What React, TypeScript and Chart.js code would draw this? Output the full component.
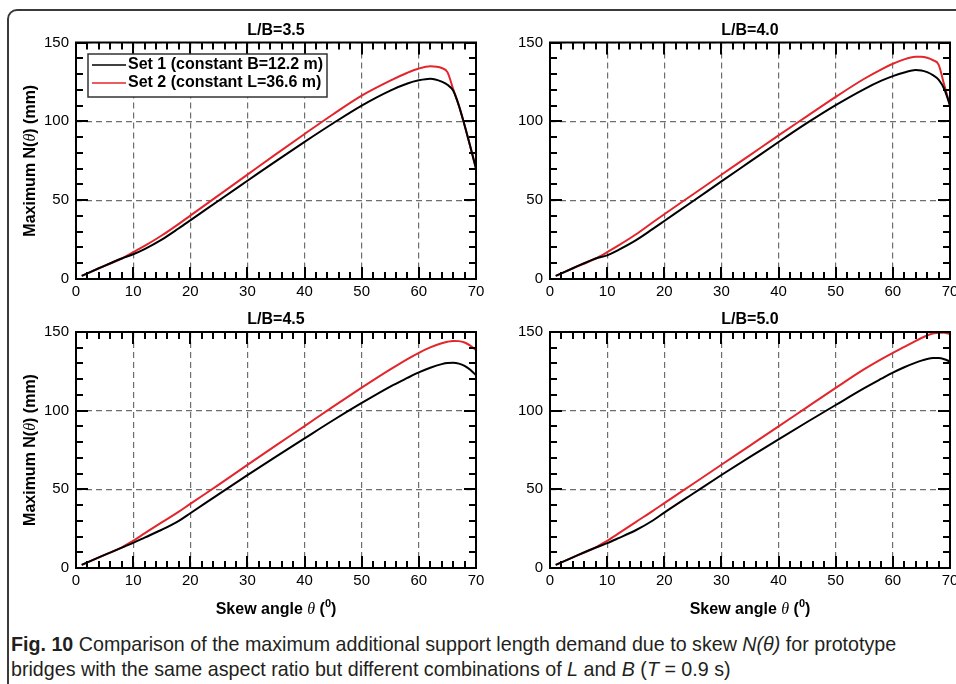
import React, { useEffect, useLayoutEffect, useRef } from "react";
import { Chart, registerables } from "chart.js";

Chart.register(...registerables);

// ---------- data ----------
const SKEW = [1, 4, 8, 10, 12, 15, 18, 20, 25, 30, 35, 40, 45, 50, 55, 58, 60, 62, 64, 65, 66, 67, 68, 69, 70];

const SET1_LB35 = [2, 6.8, 13, 15.7, 19, 25, 32.2, 37.2, 49.8, 62.3, 74.8, 87, 98.8, 110, 119.5, 124, 126, 127, 125.2, 123.2, 119.5, 110, 97.5, 84, 70];
const SET2_LB35 = [2, 6.8, 13, 17, 21, 27.6, 35, 40.2, 53.2, 66.2, 79.2, 92, 104.5, 116.3, 125.8, 130.8, 133.5, 134.9, 133.8, 131.2, 120.5, 110, 97.5, 84, 70];

const SET1_LB40 = [2, 6.8, 13, 15, 18.5, 24.5, 31.8, 36.8, 49.3, 61.9, 74.4, 86.9, 99, 110.3, 120.5, 125.8, 128.7, 131, 132.5, 132.3, 131.2, 129.3, 126.5, 120.5, 110];
const SET2_LB40 = [2, 6.8, 13, 17, 21.3, 28.2, 36, 41.1, 53.6, 66.1, 78.6, 91.1, 103.3, 115.5, 127, 133, 136.5, 139.3, 140.9, 141, 140.3, 138.8, 136, 123, 110];

const SET1_LB45 = [2, 6.8, 13, 16, 19.3, 24.3, 30, 34.8, 47, 59, 70.8, 82.4, 93.9, 104.9, 115.3, 120.8, 124.3, 127.3, 129.6, 130.3, 130.4, 129.9, 128.5, 126, 122.5];
const SET2_LB45 = [2, 6.8, 13, 17.3, 22, 29, 35.8, 40.8, 53, 65.5, 77.9, 90.2, 102.6, 114.6, 126.2, 132.8, 136.8, 140.2, 142.9, 143.8, 144.3, 144.2, 143.3, 141.3, 138.5];

const SET1_LB50 = [2, 6.8, 13, 15.8, 19, 24, 30.2, 35.2, 47.2, 59.1, 70.6, 81.8, 92.8, 103.6, 114.3, 120.3, 124.2, 127.6, 130.5, 131.8, 132.8, 133.4, 133.4, 132.7, 131.2];
const SET2_LB50 = [2, 6.8, 13, 17.3, 22, 29.2, 36.3, 41.2, 53.4, 65.6, 77.8, 90, 102.3, 114.5, 126.4, 132.8, 136.8, 140.6, 144.4, 146.2, 147.8, 149, 149.6, 149.5, 148.6];

const SERIES_LABELS = ["Set 1 (constant B=12.2 m)", "Set 2 (constant L=36.6 m)"];
const PANEL_TITLES = ["L/B=3.5", "L/B=4.0", "L/B=4.5", "L/B=5.0"];
const X_MIN = 0, X_MAX = 70, X_STEP = 10, X_MINOR = 2;
const Y_MIN = 0, Y_MAX = 150, Y_STEP = 50, Y_MINOR = 10;

const RED = "#e3262b";
const SANS = "'Liberation Sans', Arial, Helvetica, sans-serif";
const SERIF = "'Liberation Serif', 'Times New Roman', serif";

type Seg = { t: string; f: string; dy?: number };

function drawRich(ctx: CanvasRenderingContext2D, segs: Seg[], cx: number, cy: number, rot = 0) {
  ctx.save();
  ctx.translate(cx, cy);
  if (rot) ctx.rotate(rot);
  ctx.textBaseline = "middle";
  ctx.textAlign = "left";
  ctx.fillStyle = "#000";
  let w = 0;
  for (const s of segs) {
    ctx.font = s.f;
    w += ctx.measureText(s.t).width;
  }
  let x = -w / 2;
  for (const s of segs) {
    ctx.font = s.f;
    ctx.fillText(s.t, x, s.dy || 0);
    x += ctx.measureText(s.t).width;
  }
  ctx.restore();
}

type PanelProps = {
  left: number;
  top: number;
  width: number;
  height: number;
  area: { left: number; right: number; top: number; bottom: number };
  title: string;
  set1: number[];
  set2: number[];
  legend?: boolean;
  yTitle?: boolean;
  xTitle?: boolean;
};

function Panel(p: PanelProps) {
  const ref = useRef<HTMLCanvasElement>(null);
  useEffect(() => {
    const canvas = ref.current!;
    const decor = {
      id: "decor",
      afterDraw(chart: any) {
        const ctx: CanvasRenderingContext2D = chart.ctx;
        const a = chart.chartArea;
        const xs = chart.scales.x;
        const ys = chart.scales.y;
        ctx.save();
        // inward ticks
        ctx.strokeStyle = "#000";
        ctx.lineWidth = 2;
        ctx.beginPath();
        for (let v = X_MIN; v <= X_MAX; v += X_MINOR) {
          const px = Math.round(xs.getPixelForValue(v));
          const len = v % X_STEP === 0 ? 12 : 7;
          ctx.moveTo(px, a.bottom);
          ctx.lineTo(px, a.bottom - len);
          ctx.moveTo(px, a.top);
          ctx.lineTo(px, a.top + len);
        }
        for (let v = Y_MIN; v <= Y_MAX; v += Y_MINOR) {
          const py = Math.round(ys.getPixelForValue(v));
          const len = v % Y_STEP === 0 ? 12 : 7;
          ctx.moveTo(a.left, py);
          ctx.lineTo(a.left + len, py);
          ctx.moveTo(a.right, py);
          ctx.lineTo(a.right - len, py);
        }
        ctx.stroke();
        // box
        ctx.lineWidth = 2;
        ctx.strokeRect(a.left, a.top, a.right - a.left, a.bottom - a.top);
        ctx.restore();

        // panel title
        drawRich(ctx, [{ t: p.title, f: `bold 16px ${SANS}` }], (a.left + a.right) / 2, a.top - 12);

        if (p.yTitle) {
          drawRich(
            ctx,
            [
              { t: "Maximum N(", f: `bold 16px ${SANS}` },
              { t: "θ", f: `italic 16px ${SERIF}` },
              { t: ") (mm)", f: `bold 16px ${SANS}` },
            ],
            30.5,
            (a.top + a.bottom) / 2,
            -Math.PI / 2
          );
        }
        if (p.xTitle) {
          drawRich(
            ctx,
            [
              { t: "Skew angle ", f: `bold 16px ${SANS}` },
              { t: "θ", f: `italic 16px ${SERIF}` },
              { t: " (", f: `bold 16px ${SANS}` },
              { t: "0", f: `bold 11px ${SANS}`, dy: -6 },
              { t: ")", f: `bold 16px ${SANS}` },
            ],
            (a.left + a.right) / 2,
            a.bottom + 42
          );
        }
        if (p.legend) {
          const bx = a.left + 12, by = a.top + 11.5, bw = 239, bh = 43;
          ctx.save();
          ctx.fillStyle = "#fff";
          ctx.fillRect(bx, by, bw, bh);
          ctx.strokeStyle = "#333";
          ctx.lineWidth = 1.5;
          ctx.strokeRect(bx, by, bw, bh);
          chart.data.datasets.forEach((ds: any, i: number) => {
            const yy = by + 11 + i * 18;
            ctx.strokeStyle = ds.borderColor;
            ctx.lineWidth = 1.5;
            ctx.beginPath();
            ctx.moveTo(bx + 4, yy);
            ctx.lineTo(bx + 38, yy);
            ctx.stroke();
            ctx.fillStyle = "#000";
            ctx.font = `bold 16px ${SANS}`;
            ctx.textBaseline = "middle";
            ctx.textAlign = "left";
            ctx.fillText(ds.label, bx + 40, yy);
          });
          ctx.restore();
        }
      },
    };

    const mk = (vals: number[]) => SKEW.map((x, i) => ({ x, y: vals[i] }));
    const chart = new Chart(canvas, {
      type: "line",
      data: {
        datasets: [
          {
            label: SERIES_LABELS[0],
            data: mk(p.set1),
            borderColor: "#000",
            borderWidth: 2,
            pointRadius: 0,
            cubicInterpolationMode: "monotone",
          },
          {
            label: SERIES_LABELS[1],
            data: mk(p.set2),
            borderColor: RED,
            borderWidth: 2,
            pointRadius: 0,
            cubicInterpolationMode: "monotone",
          },
        ],
      },
      options: {
        responsive: false,
        animation: false,
        devicePixelRatio: 1,
        layout: { padding: { left: 0, top: p.area.top, right: p.width - p.area.right, bottom: 0 } },
        plugins: { legend: { display: false }, tooltip: { enabled: false }, title: { display: false } },
        scales: {
          x: {
            type: "linear",
            min: X_MIN,
            max: X_MAX,
            ticks: { stepSize: X_STEP, autoSkip: false, maxRotation: 0, padding: 4, color: "#000", font: { family: SANS, size: 15 } },
            grid: { color: "#6e6e6e", lineWidth: 1.2, drawTicks: false },
            border: { display: false, dash: [6, 4] },
            afterFit: (s: any) => {
              s.height = p.height - p.area.bottom;
              s.paddingLeft = 0;
              s.paddingRight = 0;
            },
          },
          y: {
            type: "linear",
            min: Y_MIN,
            max: Y_MAX,
            ticks: { stepSize: Y_STEP, padding: 7, color: "#000", font: { family: SANS, size: 15 } },
            grid: { color: "#6e6e6e", lineWidth: 1.2, drawTicks: false },
            border: { display: false, dash: [6, 4] },
            afterFit: (s: any) => {
              s.width = p.area.left;
              s.paddingTop = 0;
              s.paddingBottom = 0;
            },
          },
        },
      },
      plugins: [decor],
    } as any);
    return () => chart.destroy();
  }, []);
  return (
    <canvas
      ref={ref}
      width={p.width}
      height={p.height}
      style={{ position: "absolute", left: p.left, top: p.top, width: p.width, height: p.height }}
    />
  );
}

function Caption() {
  const l1 = useRef<HTMLSpanElement>(null);
  const l2 = useRef<HTMLSpanElement>(null);
  useLayoutEffect(() => {
    const w = l1.current!.offsetWidth;
    const k = 885 / w;
    l1.current!.style.transform = `scaleX(${k})`;
    l2.current!.style.transform = `scaleX(${k})`;
  }, []);
  const lineStyle: React.CSSProperties = {
    position: "absolute",
    left: 11,
    display: "inline-block",
    whiteSpace: "nowrap",
    transformOrigin: "0 50%",
    fontFamily: "'Liberation Sans', Arial, sans-serif",
    fontSize: 21,
    lineHeight: "25px",
    color: "#231f20",
  };
  return (
    <>
      <span ref={l1} style={{ ...lineStyle, top: 631 }}>
        <b>Fig. 10</b> Comparison of the maximum additional support length demand due to skew <i>N(θ)</i> for prototype
      </span>
      <span ref={l2} style={{ ...lineStyle, top: 656 }}>
        bridges with the same aspect ratio but different combinations of <i>L</i> and <i>B</i> (<i>T</i> = 0.9 s)
      </span>
    </>
  );
}

export default function App() {
  return (
    <div
      style={{
        position: "absolute",
        left: 0,
        top: 0,
        width: 956,
        height: 684,
        overflow: "hidden",
        background: "#fff",
      }}
    >
      <div
        style={{
          position: "absolute",
          left: 7,
          top: 9,
          width: 1200,
          height: 1200,
          border: "2px solid #3a3a3a",
          borderTopLeftRadius: 10,
          boxSizing: "border-box",
        }}
      />
      <Panel left={0} top={0} width={500} height={305} area={{ left: 76, right: 476, top: 42.5, bottom: 279 }}
        title={PANEL_TITLES[0]} set1={SET1_LB35} set2={SET2_LB35} legend yTitle />
      <Panel left={478} top={0} width={478} height={305} area={{ left: 72, right: 472, top: 42.5, bottom: 279 }}
        title={PANEL_TITLES[1]} set1={SET1_LB40} set2={SET2_LB40} />
      <Panel left={0} top={300} width={500} height={324} area={{ left: 76, right: 476, top: 32, bottom: 268 }}
        title={PANEL_TITLES[2]} set1={SET1_LB45} set2={SET2_LB45} yTitle xTitle />
      <Panel left={478} top={300} width={478} height={324} area={{ left: 72, right: 472, top: 32, bottom: 268 }}
        title={PANEL_TITLES[3]} set1={SET1_LB50} set2={SET2_LB50} xTitle />
      <Caption />
    </div>
  );
}
